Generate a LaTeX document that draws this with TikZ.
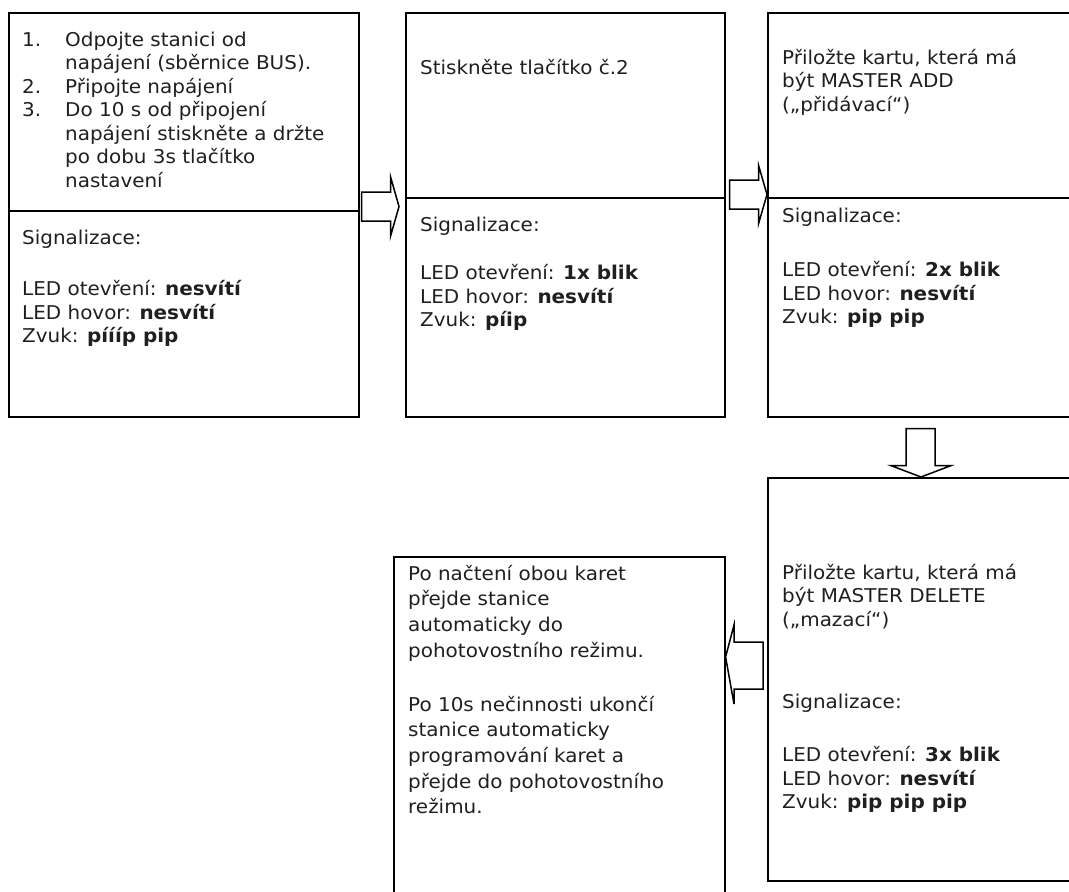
\documentclass[tikz,border=0pt]{standalone}
\usepackage{fontspec}
\setmainfont{DejaVu Sans}[FakeStretch=1.05]
\usetikzlibrary{calc}
\newcommand{\topst}{\rule{0pt}{18pt}}
\begin{document}
\begin{tikzpicture}[x=1pt,y=-1pt,
  box/.style={draw, line width=1.6pt, inner sep=0pt, anchor=north west},
  txt/.style={anchor=north west, inner sep=0pt, align=left, font=\fontsize{19}{23.5}\selectfont, text=black!88},
  txtb/.style={txt, font=\fontsize{19}{25.7}\selectfont},
  barrow/.style={draw, line width=1.5pt, fill=white, line join=miter}]
\clip (0,0) rectangle (1069,892);
% boxes
\node[box, minimum width=350pt, minimum height=404pt] (b1) at (8,12) {};
\node[box, minimum width=319pt, minimum height=404pt] (b2) at (405,12) {};
\node[box, minimum width=320pt, minimum height=404pt] (b3) at (767,12) {};
\node[box, minimum width=320pt, minimum height=403pt] (b4) at (767,477) {};
\node[box, minimum width=331pt, minimum height=360pt] (b5) at (393,556) {};
% dividers
\draw[line width=1.6pt] (b1.west |- 0,211) -- (b1.east |- 0,211);
\draw[line width=1.6pt] (b2.west |- 0,198) -- (b2.east |- 0,198);
\draw[line width=1.6pt] (b3.west |- 0,198) -- (b3.east |- 0,198);
% block arrows
\draw[barrow] ($(b1.east |- 0,206.5)+(2,-14.5)$) coordinate (a1s)
  -- ++(29,0) -- ++(0,-15) -- ($(b2.west |- 0,206.5)+(-6,0)$) coordinate (a1t)
  -- ($(a1s)+(29,44)$) -- ++(0,-15) -- ++(-29,0) -- cycle;
\draw[barrow] ($(b2.east |- 0,194.5)+(4,-14.5)$) coordinate (a2s)
  -- ++(29,0) -- ++(0,-14.5) -- (b3.west |- 0,194.5) coordinate (a2t)
  -- ($(a2s)+(29,43.5)$) -- ++(0,-14.5) -- ++(-29,0) -- cycle;
\draw[barrow] ($(b3.south -| 906,0)+(0,11)$) coordinate (a3s)
  -- ++(29,0) -- ++(0,37) -- ++(16,0) -- (b4.north -| 921,0) coordinate (a3t)
  -- ($(a3s)+(-15,37)$) -- ++(15,0) -- cycle;
\draw[barrow] ($(b4.west |- 0,657)+(-4,-15)$) coordinate (a4s)
  -- ++(-29,0) -- ++(0,-17) -- (b5.east |- 0,657) coordinate (a4t)
  -- ($(a4s)+(-29,62)$) -- ++(0,-15) -- ++(29,0) -- cycle;
% texts box 1
\node[txt] (t1a) at (22,28) {\topst\makebox[43pt][l]{1.}Odpojte stanici od\\
  \hspace*{43pt}napájení (sběrnice BUS).\\
  \makebox[43pt][l]{2.}Připojte napájení\\
  \makebox[43pt][l]{3.}Do 10 s od připojení\\
  \hspace*{43pt}napájení stiskněte a držte\\
  \hspace*{43pt}po dobu 3s tlačítko\\
  \hspace*{43pt}nastavení};
\node[txt] (t1b) at (22,226) {\topst Signalizace:\\[28pt]
  LED otevření: \textbf{nesvítí}\\
  LED hovor: \textbf{nesvítí}\\
  Zvuk: \textbf{píííp pip}};
% box 2
\node[txt] (t2a) at (420,56) {\topst Stiskněte tlačítko č.2};
\node[txt] (t2b) at (420,213) {\topst Signalizace:\\[25pt]
  LED otevření: \textbf{1x blik}\\
  LED hovor: \textbf{nesvítí}\\
  Zvuk: \textbf{píip}};
% box 3
\node[txt] (t3a) at (782,46) {\topst Přiložte kartu, která má\\
  být MASTER ADD\\
  („přidávací“)};
\node[txt] (t3b) at (782,204) {\topst Signalizace:\\[31pt]
  LED otevření: \textbf{2x blik}\\
  LED hovor: \textbf{nesvítí}\\
  Zvuk: \textbf{pip pip}};
% box 4
\node[txt] (t4a) at (782,561) {\topst Přiložte kartu, která má\\
  být MASTER DELETE\\
  („mazací“)};
\node[txt] (t4b) at (782,690) {\topst Signalizace:\\[30pt]
  LED otevření: \textbf{3x blik}\\
  LED hovor: \textbf{nesvítí}\\
  Zvuk: \textbf{pip pip pip}};
% box 5
\node[txtb] (t5) at (408,562) {\topst Po načtení obou karet\\
  přejde stanice\\
  automaticky do\\
  pohotovostního režimu.\\[28pt]
  Po 10s nečinnosti ukončí\\
  stanice automaticky\\
  programování karet a\\
  přejde do pohotovostního\\
  režimu.};
\end{tikzpicture}
\end{document}
